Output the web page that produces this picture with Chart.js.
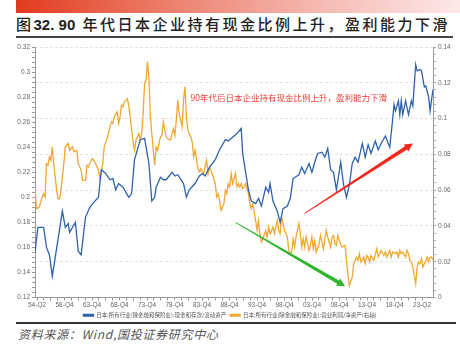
<!DOCTYPE html>
<html>
<head>
<meta charset="utf-8">
<script src="https://cdn.jsdelivr.net/npm/chart.js@4.4.1/dist/chart.umd.min.js"></script>
<style>
body{margin:0;width:460px;height:351px;background:#fff;position:relative;overflow:hidden;font-family:"Noto Sans CJK SC","Noto Sans",sans-serif}
.bar{position:absolute;left:16px;top:0;width:444px;height:13px;background:linear-gradient(to right,#e23b1e,#ee8a78 40%,#f6bcb6 70%,#fde8e8)}
.title{position:absolute;left:16px;top:14px;line-height:20px;font-size:15px;font-weight:500;letter-spacing:2.5px;color:#222;white-space:nowrap}
.title .num{letter-spacing:0;font-family:"Liberation Sans",Arial,sans-serif;font-weight:bold;margin-right:3px}
.rule{position:absolute;left:16px;top:36px;width:437px;height:2px;background:#444}
.wrap{position:absolute;left:0;top:40px;width:460px;height:288px}
.rule2{position:absolute;left:16px;top:322px;width:440px;height:1.5px;background:#333}
.src{position:absolute;left:18px;top:325px;font-size:12px;line-height:18px;font-style:italic;color:#555;letter-spacing:0.7px;white-space:nowrap}
</style>
</head>
<body>
<div class="bar"></div>
<div class="title">图<span class="num">32. 90 </span>年代日本企业持有现金比例上升，盈利能力下滑</div>
<div class="rule"></div>
<div class="rule2"></div>
<div class="src">资料来源：Wind,国投证券研究中心</div>
<div class="wrap"><canvas id="chart"></canvas></div>
<script>
// x = quarters since 1954-Q2 (0 .. 276 = 2023-Q2)
const xLabels = ['54-Q2','58-Q4','63-Q4','68-Q4','73-Q4','78-Q4','83-Q4','88-Q4','93-Q4','98-Q4','03-Q4','08-Q4','13-Q4','18-Q4','23-Q2'];

// 现金和存款/流动资产 (left axis), [quarter, value]
const cashRatio = [[0,.156],[2,.176],[6,.176],[8,.160],[10,.154],[12,.137],[19,.189],[21,.176],[23,.179],[24,.172],[26,.176],[28,.180],[30,.157],[32,.154],[35,.184],[38,.192],[40,.195],[44,.200],[46,.222],[49,.219],[52,.214],[54,.215],[56,.206],[58,.211],[61,.208],[65,.200],[67,.203],[69,.230],[73,.246],[76,.247],[79,.227],[81,.197],[83,.200],[84,.208],[87,.216],[89,.214],[91,.214],[95,.220],[97,.217],[99,.218],[103,.211],[105,.200],[107,.206],[111,.211],[114,.217],[116,.219],[118,.217],[121,.224],[125,.230],[128,.238],[132,.246],[134,.245],[136,.247],[140,.251],[143,.255],[144,.235],[148,.206],[150,.197],[153,.195],[155,.199],[157,.193],[160,.208],[162,.204],[163,.211],[165,.197],[168,.189],[170,.180],[172,.191],[175,.193],[177,.199],[179,.215],[183,.218],[185,.224],[187,.219],[190,.227],[192,.220],[194,.228],[196,.235],[199,.236],[201,.232],[203,.239],[205,.222],[207,.220],[209,.206],[212,.228],[214,.210],[216,.200],[218,.210],[220,.227],[222,.232],[224,.228],[227,.243],[229,.232],[231,.242],[233,.235],[236,.245],[238,.238],[240,.243],[243,.249],[246,.240],[248,.262],[249,.274],[250,.269],[252,.277],[253,.266],[254,.277],[255,.266],[257,.277],[259,.266],[261,.277],[262,.273],[264,.306],[265,.301],[267,.302],[268,.301],[270,.288],[271,.289],[273,.280],[274,.269],[275,.278],[276,.286]];

// 营业利润/净资产 (right axis), [quarter, value]
const profitRate = [[0,.0618],[1,.0497],[3,.0506],[5,.0562],[6,.058],[7,.0562],[8,.0748],[9,.0739],[10,.0786],[11,.0767],[12,.0842],[13,.0748],[15,.0599],[16,.0552],[17,.0552],[18,.0599],[20,.0748],[21,.0842],[23,.0861],[24,.0823],[26,.0842],[27,.0814],[29,.0823],[30,.0748],[32,.0711],[33,.0655],[35,.0655],[36,.0739],[37,.073],[38,.0748],[39,.0767],[40,.0776],[42,.0748],[43,.073],[44,.0711],[45,.0664],[47,.0748],[48,.0842],[50,.0888],[52,.0954],[53,.0982],[54,.0972],[55,.101],[57,.1038],[58,.0972],[59,.101],[60,.1075],[61,.1066],[62,.1094],[64,.1112],[65,.1075],[66,.101],[67,.0935],[68,.087],[69,.0823],[70,.0879],[72,.0916],[73,.0879],[74,.0916],[75,.1028],[76,.1196],[77,.1215],[78,.1318],[79,.1234],[80,.101],[82,.0823],[83,.0739],[84,.0842],[85,.0823],[87,.0898],[88,.0907],[89,.0982],[90,.0935],[91,.0898],[92,.0888],[94,.0879],[95,.0916],[96,.0944],[97,.0907],[98,.0991],[99,.1103],[100,.1028],[102,.0954],[103,.1103],[104,.1178],[105,.101],[106,.0935],[107,.0916],[108,.0898],[109,.087],[110,.0786],[111,.0823],[113,.072],[114,.0702],[115,.072],[116,.0702],[117,.0692],[119,.0767],[120,.0692],[121,.073],[122,.0711],[124,.0664],[125,.0636],[126,.0562],[127,.058],[128,.0543],[129,.0487],[131,.0524],[132,.0599],[133,.058],[134,.0636],[135,.0618],[136,.0692],[137,.0636],[139,.0692],[140,.0618],[141,.0636],[142,.0618],[143,.0636],[144,.0608],[145,.0618],[146,.0636],[148,.058],[149,.0524],[150,.0497],[151,.0524],[153,.0431],[154,.0375],[155,.0431],[156,.0357],[157,.031],[158,.0328],[160,.0375],[161,.0338],[162,.0394],[163,.0357],[164,.0375],[165,.0394],[166,.0357],[168,.0431],[169,.0375],[170,.0357],[171,.045],[172,.0413],[173,.0375],[175,.0338],[176,.0263],[177,.0245],[178,.0254],[179,.0328],[180,.0282],[181,.0338],[183,.0413],[184,.0357],[185,.0282],[186,.0328],[187,.0282],[188,.0338],[190,.0263],[191,.0291],[192,.0338],[193,.0272],[194,.0319],[195,.0254],[197,.03],[198,.0347],[199,.031],[200,.0272],[201,.0328],[202,.0375],[203,.0338],[205,.0282],[206,.0338],[207,.0347],[208,.03],[209,.0291],[210,.0347],[211,.0319],[213,.0282],[215,.0291],[216,.0207],[217,.0133],[218,.0067],[220,.0114],[221,.0189],[223,.0226],[224,.0207],[225,.0245],[226,.0198],[228,.0226],[229,.0189],[230,.0235],[231,.0226],[232,.0198],[233,.0235],[235,.0207],[237,.0273],[238,.0226],[239,.0245],[240,.0263],[242,.0235],[243,.0254],[244,.0226],[245,.0245],[246,.0263],[247,.0226],[248,.0254],[250,.0245],[251,.0254],[252,.0226],[253,.0263],[254,.0245],[255,.0254],[257,.0226],[258,.0263],[259,.0245],[260,.0207],[261,.0198],[262,.017],[264,.0077],[265,.017],[266,.0198],[267,.0189],[268,.0216],[269,.017],[271,.0207],[272,.0226],[273,.0198],[274,.0226],[275,.0226],[276,.021]];

const seriesNames = ['日本:所有行业(除金融和保险业):现金和存款/流动资产','日本:所有行业(除金融和保险业):营业利润/净资产(右轴)'];
const note = '90年代后日本企业持有现金比例上升，盈利能力下滑';
// arrows in data units: [quarter, right-axis value]
const upArrow = [[187,.047],[262,.086]];
const downArrow = [[139,.042],[215,.0063]];

Chart.defaults.font.family = '"Liberation Sans", Arial, sans-serif';

const isMajor = v => Math.abs(v/0.02 - Math.round(v/0.02)) < 1e-6;
const fmt = v => String(+v.toFixed(2));

function drawArrow(ctx,x1,y1,x2,y2,color){
  const dx=x2-x1, dy=y2-y1, len=Math.hypot(dx,dy);
  const ux=dx/len, uy=dy/len, nx=-uy, ny=ux;
  const head=8, hw=4.2, w0=0.4, w1=1.9;
  const bx=x2-ux*head, by=y2-uy*head;
  ctx.fillStyle=color;
  ctx.beginPath();
  ctx.moveTo(x1+nx*w0,y1+ny*w0);
  ctx.lineTo(bx+nx*w1,by+ny*w1);
  ctx.lineTo(bx+nx*hw,by+ny*hw);
  ctx.lineTo(x2,y2);
  ctx.lineTo(bx-nx*hw,by-ny*hw);
  ctx.lineTo(bx-nx*w1,by-ny*w1);
  ctx.lineTo(x1-nx*w0,y1-ny*w0);
  ctx.closePath();
  ctx.fill();
}

const notes = {
  id:'notes',
  afterDatasetsDraw(chart){
    const {ctx, scales:{x, y1}} = chart;
    ctx.save();
    const a = upArrow.map(p=>[x.getPixelForValue(p[0]), y1.getPixelForValue(p[1])]);
    drawArrow(ctx,a[0][0],a[0][1],a[1][0],a[1][1],'#f0281c');
    const b = downArrow.map(p=>[x.getPixelForValue(p[0]), y1.getPixelForValue(p[1])]);
    drawArrow(ctx,b[0][0],b[0][1],b[1][0],b[1][1],'#2fb62c');
    ctx.font='8.5px "Noto Sans CJK SC"';
    ctx.fillStyle='#e8403a';
    ctx.textAlign='center';
    ctx.textBaseline='middle';
    ctx.fillText(note, x.getPixelForValue(176), y1.getPixelForValue(0.1114));
    ctx.restore();
  }
};

const tickFont = {size:6.5};

new Chart(document.getElementById('chart'),{
  type:'line',
  data:{
    datasets:[
      {label:seriesNames[0], data:cashRatio.map(p=>({x:p[0],y:p[1]})), yAxisID:'y', borderColor:'#2f62ad', backgroundColor:'#2f62ad', borderWidth:1.3, pointRadius:0, tension:0},
      {label:seriesNames[1], data:profitRate.map(p=>({x:p[0],y:p[1]})), yAxisID:'y1', borderColor:'#f2a82f', backgroundColor:'#f2a82f', borderWidth:1.3, pointRadius:0, tension:0}
    ]
  },
  options:{
    responsive:true,
    maintainAspectRatio:false,
    animation:false,
    layout:{padding:{top:7,left:0,right:0,bottom:0}},
    plugins:{
      legend:{
        position:'bottom',
        labels:{boxWidth:10, boxHeight:1.5, padding:4, color:'#555', font:{size:5.5, family:'"Noto Sans CJK SC"'}}
      },
      tooltip:{enabled:false}
    },
    scales:{
      x:{
        type:'linear', min:0, max:276,
        afterBuildTicks(ax){
          const first=1.4, step=19.07, ticks=[];
          for(let i=0;i<=(xLabels.length-1)*4;i++) ticks.push({value:first+i*step/4});
          ax.ticks=ticks;
        },
        ticks:{autoSkip:false, maxRotation:0, padding:1, color:'#666', font:tickFont,
          callback:(v,i)=> i%4===0 ? xLabels[i/4] : ''},
        grid:{drawOnChartArea:false, tickLength:3, tickColor:'#999'},
        border:{color:'#999'},
        afterFit(ax){ax.height=11;}
      },
      y:{
        position:'left', min:0.12, max:0.32,
        ticks:{stepSize:0.004, autoSkip:false, padding:2, color:'#666', font:tickFont,
          callback:v=> isMajor(v)?fmt(v):''},
        grid:{drawOnChartArea:false, tickLength:3, tickColor:'#999'},
        border:{color:'#999'},
        afterFit(ax){ax.width=35;}
      },
      y1:{
        position:'right', min:0, max:0.14,
        ticks:{stepSize:0.004, autoSkip:false, padding:2, color:'#666', font:tickFont,
          callback:v=> isMajor(v)?fmt(v):''},
        grid:{color:c=> isMajor(c.tick.value)?'#dedede':'rgba(0,0,0,0)', lineWidth:0.8, tickLength:3, tickColor:'#999'},
        border:{color:'#999', dash:[3,2]},
        afterFit(ax){ax.width=27;}
      }
    }
  },
  plugins:[notes]
});
</script>
</body>
</html>
